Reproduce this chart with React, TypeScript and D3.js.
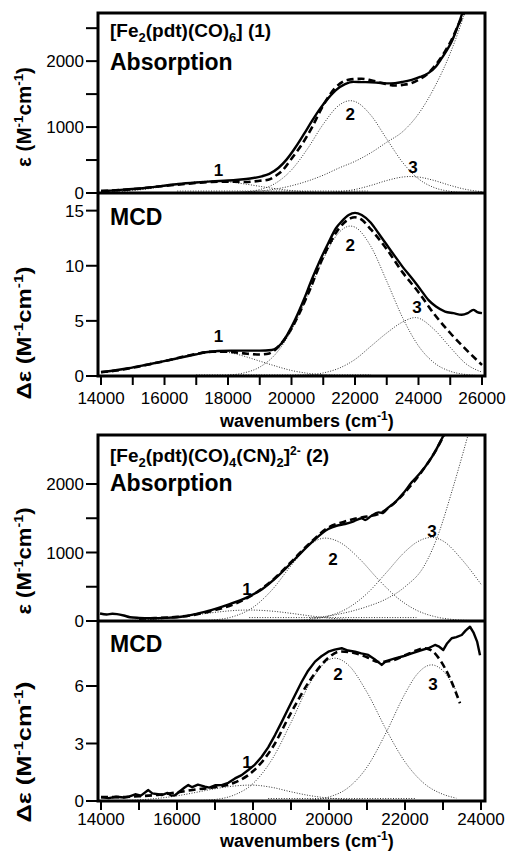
import React from 'react';
import * as d3 from 'd3';

type P = [number, number];

// ---------- Compound 1: [Fe2(pdt)(CO)6] ----------
const abs1Exp: P[] = [[14000,30],[14230,35],[14800,55],[15386,76],[15900,105],[16435,136],[17000,160],[17487,177],[18000,190],[18326,202],[18700,220],[19063,253],[19300,290],[19585,379],[19850,510],[20111,682],[20400,900],[20636,1086],[20900,1280],[21160,1439],[21400,1560],[21686,1651],[21950,1685],[22212,1682],[22500,1680],[22735,1672],[23000,1662],[23261,1667],[23500,1685],[23787,1717],[24050,1760],[24310,1818],[24550,1920],[24732,2045],[24900,2170],[25047,2298],[25200,2480],[25362,2702],[25500,2900]];
const abs1Fit: P[] = [[14000,30],[14230,35],[15000,58],[16000,108],[17000,152],[17487,168],[18000,172],[18536,167],[19000,185],[19270,202],[19500,260],[19690,328],[20000,520],[20322,732],[20650,1000],[20952,1288],[21371,1591],[21790,1717],[22212,1732],[22500,1710],[22842,1667],[23261,1631],[23500,1640],[23787,1667],[24050,1730],[24310,1818],[24600,1980],[24836,2147],[25050,2330],[25255,2550],[25570,2850]];
const abs1Band1: P[] = [[14000,8],[14500,18],[15000,37],[15500,65],[16000,101],[16500,139],[17000,169],[17500,180],[18000,169],[18500,139],[19000,101],[19500,65],[20000,37],[20500,18],[21000,8],[21500,3],[22000,1]];
const abs1Band2: P[] = [[17000,1],[18000,5],[18500,15],[19000,52],[19500,149],[20000,350],[20500,668],[21000,1044],[21500,1332],[21850,1400],[22000,1387],[22500,1179],[23000,819],[23500,464],[24000,215],[24500,81],[25000,25],[25500,6],[26000,2]];
const abs1Band3: P[] = [[20500,1],[21000,6],[21500,20],[22000,54],[22500,115],[23000,189],[23500,242],[23750,250],[24000,242],[24500,189],[25000,115],[25500,54],[26000,20]];
const abs1Band4: P[] = [[18000,10],[18500,15],[19000,30],[19500,60],[20000,110],[20500,180],[21000,270],[21500,380],[22000,480],[22500,610],[23000,770],[23500,930],[24000,1200],[24500,1600],[25000,2120],[25500,2800],[25800,3300]];
const abs1Flat: P[] = [[16400,30],[22400,30]];

const mcd1Exp: P[] = [[14000,0.35],[14300,0.45],[14860,0.7],[15400,1.0],[15912,1.3],[16400,1.6],[16961,1.95],[17300,2.15],[17695,2.27],[18100,2.3],[18536,2.3],[19000,2.3],[19376,2.36],[19690,2.97],[20111,5.09],[20400,7.0],[20636,8.73],[20900,10.5],[21160,12.06],[21400,13.4],[21581,14.03],[21800,14.6],[22001,14.8],[22212,14.6],[22500,13.9],[22735,12.97],[23000,11.9],[23261,10.85],[23500,9.9],[23787,8.88],[24050,7.9],[24310,6.91],[24550,6.3],[24836,5.85],[25100,5.7],[25362,5.55],[25550,5.7],[25728,6.0],[25850,5.8],[26000,5.7]];
const mcd1Fit: P[] = [[14000,0.35],[14500,0.5],[15000,0.75],[15500,1.05],[16000,1.35],[16500,1.7],[17000,2.0],[17500,2.2],[18000,2.2],[18500,2.05],[19000,1.95],[19300,2.05],[19600,2.7],[20000,4.3],[20500,7.3],[21000,10.8],[21500,13.4],[21850,14.3],[22000,14.4],[22200,14.2],[22500,13.3],[23000,11.5],[23500,9.4],[24000,7.6],[24500,5.6],[25000,3.9],[25500,2.4],[26000,1.0]];
const mcd1Band1: P[] = [[14000,0.35],[14500,0.5],[15000,0.75],[15500,1.05],[16000,1.35],[16500,1.7],[17000,2.0],[17650,2.2],[18000,2.14],[18500,1.8],[19000,1.35],[19500,0.9],[20000,0.5],[20500,0.25],[21000,0.1],[21500,0.04],[22000,0.02]];
const mcd1Band2: P[] = [[18000,0.08],[18500,0.28],[19000,0.81],[19500,2.0],[20000,4.15],[20500,7.22],[21000,10.6],[21500,13.03],[21850,13.6],[22000,13.5],[22500,11.75],[23000,8.6],[23500,5.29],[24000,2.73],[24500,1.18],[25000,0.43],[25500,0.13],[26000,0.03]];
const mcd1Band3: P[] = [[20000,0.04],[20500,0.1],[21000,0.28],[21500,0.71],[22000,1.5],[22500,2.7],[23000,3.9],[23500,4.9],[23900,5.3],[24500,4.2],[25000,2.6],[25500,1.1],[26000,0.35]];
const mcd1Flat: P[] = [[17000,0.1],[22500,0.1]];

// ---------- Compound 2: [Fe2(pdt)(CO)4(CN)2]2- ----------
const abs2Exp: P[] = [[13974,110],[14150,95],[14300,105],[14421,100],[14600,80],[14763,55],[15000,45],[15289,40],[15700,45],[16000,55],[16263,73],[16474,100],[16900,160],[17350,240],[17789,330],[18228,460],[18667,662],[19105,905],[19544,1148],[19982,1343],[20200,1390],[20421,1416],[20650,1455],[20860,1500],[20950,1475],[21100,1530],[21298,1586],[21400,1575],[21550,1650],[21737,1732],[21950,1860],[22176,2024],[22400,2160],[22614,2316],[22800,2480],[22965,2657],[23100,2800]];
const abs2Fit: P[] = [[15000,35],[15300,40],[16000,60],[16500,95],[17000,160],[17500,245],[18000,385],[18500,590],[19000,860],[19500,1140],[20000,1370],[20400,1450],[20700,1495],[21000,1525],[21300,1560],[21600,1665],[22000,1880],[22400,2150],[22800,2480],[23100,2790]];
const abs2Band1: P[] = [[14000,2],[14500,5],[15000,13],[15500,29],[16000,55],[16500,90],[17000,126],[17500,153],[17900,160],[18500,144],[19000,112],[19500,75],[20000,43],[20500,22],[21000,9],[21500,3.5],[22000,1]];
const abs2Band2: P[] = [[16500,4],[17000,18],[17500,68],[18000,199],[18500,454],[19000,807],[19500,1117],[19900,1210],[20300,1143],[20800,909],[21300,605],[21800,338],[22300,158],[22800,62],[23300,20],[23800,6]];
const abs2Band3: P[] = [[19000,6],[19500,24],[20000,74],[20500,190],[21000,401],[21500,701],[22000,1011],[22300,1147],[22700,1220],[23000,1168],[23500,895],[24000,537]];
const abs2Band4: P[] = [[19500,40],[20000,75],[20500,130],[21000,210],[21500,320],[22000,500],[22500,800],[22900,1300],[23200,1830],[23500,2400],[23700,2800]];
const abs2Flat: P[] = [[17900,50],[22300,50]];

const mcd2Exp: P[] = [[14000,0.2],[14200,0.15],[14400,0.22],[14600,0.18],[14718,0.22],[14900,0.35],[15050,0.28],[15245,0.57],[15350,0.4],[15500,0.35],[15597,0.31],[15750,0.42],[15850,0.28],[15947,0.3],[16100,0.55],[16200,0.7],[16297,0.83],[16400,0.72],[16550,0.85],[16737,0.75],[16850,0.7],[17000,0.82],[17176,0.83],[17350,0.95],[17526,1.18],[17700,1.35],[17876,1.62],[18050,1.9],[18229,2.31],[18400,2.8],[18579,3.44],[18750,4.1],[18929,4.83],[19100,5.5],[19282,6.22],[19450,6.8],[19632,7.27],[19800,7.55],[19982,7.79],[20150,7.9],[20334,7.97],[20500,7.85],[20684,7.79],[20850,7.7],[21034,7.62],[21200,7.4],[21387,7.1],[21500,7.3],[21737,7.44],[21950,7.55],[22176,7.7],[22400,7.85],[22613,7.97],[22789,8.14],[22900,8.05],[23008,7.88],[23100,8.2],[23229,8.49],[23350,8.55],[23492,8.66],[23600,8.9],[23710,9.09],[23800,8.8],[23900,8.3],[23974,7.6]];
const mcd2Fit: P[] = [[14000,0.2],[14500,0.2],[15000,0.25],[15500,0.32],[16000,0.45],[16500,0.6],[17000,0.72],[17500,0.95],[18000,1.55],[18500,2.75],[19000,4.6],[19500,6.3],[19800,7.1],[20000,7.5],[20300,7.8],[20600,7.75],[21000,7.5],[21300,7.25],[21600,7.3],[22000,7.6],[22300,7.85],[22482,7.97],[22700,7.85],[22921,7.36],[23184,6.4],[23447,5.1]];
const mcd2Band1: P[] = [[14000,0.01],[14500,0.02],[15000,0.06],[15500,0.14],[16000,0.27],[16500,0.45],[17000,0.64],[17500,0.78],[17950,0.83],[18500,0.71],[19000,0.48],[19500,0.28],[20000,0.15],[20500,0.07],[21000,0.02]];
const mcd2Band2: P[] = [[16500,0.02],[17000,0.08],[17500,0.31],[18000,0.91],[18500,2.17],[19000,4.09],[19500,6.15],[20000,7.37],[20150,7.45],[20500,7.11],[21000,5.67],[21500,3.74],[22000,2.04],[22500,0.92],[23000,0.35],[23350,0.15]];
const mcd2Band3: P[] = [[19500,0.05],[20000,0.21],[20500,0.69],[21000,1.77],[21500,3.56],[22000,5.6],[22300,6.57],[22700,7.1],[23000,6.79],[23350,5.75]];
const mcd2Flat: P[] = [[18400,0.13],[22300,0.13]];

// ---------- Axis ticks / labels ----------
const xTicks1 = [14000,15000,16000,17000,18000,19000,20000,21000,22000,23000,24000,25000,26000];
const xLabels1 = [14000,16000,18000,20000,22000,24000,26000];
const xTicks2 = [14000,15000,16000,17000,18000,19000,20000,21000,22000,23000,24000];
const xLabels2 = [14000,16000,18000,20000,22000,24000];
const absTicks1 = [0,500,1000,1500,2000,2500];
const absTicks2 = [0,500,1000,1500,2000];
const absLabels = [0,1000,2000];
const mcdTicks1 = [0,5,10,15];
const mcdTicks2 = [0,3,6];

// peak-label positions (wavenumber, value)
const absPeaks1: [string, number, number][] = [['1',17700,258],['2',21850,1106],['3',23830,303]];
const mcdPeaks1: [string, number, number][] = [['1',17700,3.1],['2',21850,11.3],['3',23950,5.7]];
const absPeaks2: [string, number, number][] = [['1',17842,380],['2',20105,818],['3',22710,1226]];
const mcdPeaks2: [string, number, number][] = [['1',17842,1.72],['2',20237,6.31],['3',22737,5.79]];

const FONT = '"Liberation Sans", Arial, Helvetica, sans-serif';

type PanelProps = {
  id: string;
  x: d3.ScaleLinear<number, number>;
  y: d3.ScaleLinear<number, number>;
  exp: P[];
  fit: P[];
  bands: P[][];
  ticks: number[];
  labels: number[];
  peaks: [string, number, number][];
  smoothExp?: boolean;
};

function Panel({ id, x, y, exp, fit, bands, ticks, labels, peaks, smoothExp = true }: PanelProps) {
  const [x0, x1] = x.range();
  const [y0, y1] = y.range();
  const mk = (curve: d3.CurveFactory) =>
    d3.line<P>().x(d => x(d[0])).y(d => y(d[1])).curve(curve);
  const smooth = mk(d3.curveMonotoneX);
  const lin = mk(d3.curveLinear);
  return (
    <g>
      <defs>
        <clipPath id={id}>
          <rect x={x0} y={y1} width={x1 - x0} height={y0 - y1} />
        </clipPath>
      </defs>
      <g clipPath={`url(#${id})`} fill="none">
        {bands.map((b, i) => (
          <path key={i} d={smooth(b) || ''} stroke="#333" strokeWidth={1} strokeDasharray="1 1.6" />
        ))}
        <path d={smooth(fit) || ''} stroke="#000" strokeWidth={2.6} strokeDasharray="7 4" />
        <path d={(smoothExp ? smooth : lin)(exp) || ''} stroke="#000" strokeWidth={2.4} strokeLinejoin="round" />
      </g>
      {ticks.map(t => (
        <line key={t} x1={x0 - 12} x2={x0} y1={y(t)} y2={y(t)} stroke="#000" strokeWidth={2} />
      ))}
      {labels.map(t => (
        <text key={t} x={x0 - 14} y={y(t)} dy="0.36em" textAnchor="end" fontSize={17} fontFamily={FONT}>{t}</text>
      ))}
      {peaks.map(([s, wn, v]) => (
        <text key={s} x={x(wn)} y={y(v)} textAnchor="middle" fontSize={17} fontWeight="bold" fontFamily={FONT}>{s}</text>
      ))}
    </g>
  );
}

function XAxis({ x, yPos, ticks, labels, labelY, titleY }: { x: d3.ScaleLinear<number, number>; yPos: number; ticks: number[]; labels: number[]; labelY: number; titleY: number }) {
  return (
    <g>
      {ticks.map(t => (
        <line key={t} x1={x(t)} x2={x(t)} y1={yPos} y2={yPos + 9} stroke="#000" strokeWidth={2} />
      ))}
      {labels.map(t => (
        <text key={t} x={x(t)} y={labelY} textAnchor="middle" fontSize={17} fontFamily={FONT}>{t}</text>
      ))}
      <text x={220} y={titleY} fontSize={18} fontWeight="bold" fontFamily={FONT}>
        wavenumbers (cm<tspan dy={-7} fontSize={12}>-1</tspan><tspan dy={7}>)</tspan>
      </text>
    </g>
  );
}

function YTitle({ cx, cy, len, delta }: { cx: number; cy: number; len: number; delta: boolean }) {
  return (
    <text transform={`translate(${cx},${cy}) rotate(-90)`} textAnchor="middle" fontSize={20} fontWeight="bold" fontFamily={FONT}
      textLength={len} lengthAdjust="spacingAndGlyphs">
      {delta ? 'Δε' : 'ε'} (M<tspan dy={-8} fontSize={13}>-1</tspan><tspan dy={8}>cm</tspan><tspan dy={-8} fontSize={13}>-1</tspan><tspan dy={8}>)</tspan>
    </text>
  );
}

export default function App() {
  const L = 98, R = 485;
  const xs1 = d3.scaleLinear().domain([13905, 26095]).range([L, R]);
  const ya1 = d3.scaleLinear().domain([0, 2730]).range([193, 13]);
  const ym1 = d3.scaleLinear().domain([0, 16.6]).range([376, 193]);
  const xs2 = d3.scaleLinear().domain([13921, 24105]).range([L, R]);
  const ya2 = d3.scaleLinear().domain([0, 2715]).range([621, 435]);
  const ym2 = d3.scaleLinear().domain([0, 9.39]).range([801, 621]);

  return (
    <svg width={511} height={857} style={{ position: 'absolute', left: 0, top: 0, background: '#fff' }}>
      <rect width={511} height={857} fill="#fff" />
      <Panel id="c1" x={xs1} y={ya1} exp={abs1Exp} fit={abs1Fit} bands={[abs1Band1, abs1Band2, abs1Band3, abs1Band4, abs1Flat]} ticks={absTicks1} labels={absLabels} peaks={absPeaks1} />
      <Panel id="c2" x={xs1} y={ym1} exp={mcd1Exp} fit={mcd1Fit} bands={[mcd1Band1, mcd1Band2, mcd1Band3, mcd1Flat]} ticks={mcdTicks1} labels={mcdTicks1} peaks={mcdPeaks1} />
      <Panel id="c3" x={xs2} y={ya2} exp={abs2Exp} fit={abs2Fit} bands={[abs2Band1, abs2Band2, abs2Band3, abs2Band4, abs2Flat]} ticks={absTicks2} labels={absLabels} peaks={absPeaks2} />
      <Panel id="c4" x={xs2} y={ym2} exp={mcd2Exp} fit={mcd2Fit} bands={[mcd2Band1, mcd2Band2, mcd2Band3, mcd2Flat]} ticks={mcdTicks2} labels={mcdTicks2} peaks={mcdPeaks2} smoothExp={false} />

      {/* frames */}
      <rect x={L} y={13} width={R - L} height={376 - 13} fill="none" stroke="#000" strokeWidth={3} />
      <line x1={L} x2={R} y1={193} y2={193} stroke="#000" strokeWidth={3} />
      <rect x={L} y={435} width={R - L} height={801 - 435} fill="none" stroke="#000" strokeWidth={3} />
      <line x1={L} x2={R} y1={621} y2={621} stroke="#000" strokeWidth={3} />

      <XAxis x={xs1} yPos={376} ticks={xTicks1} labels={xLabels1} labelY={404} titleY={427} />
      <XAxis x={xs2} yPos={801} ticks={xTicks2} labels={xLabels2} labelY={825} titleY={847} />

      <YTitle cx={31} cy={117} len={100} delta={false} />
      <YTitle cx={31} cy={333} len={133} delta={true} />
      <YTitle cx={31} cy={561} len={107} delta={false} />
      <YTitle cx={31} cy={752} len={141} delta={true} />

      {/* titles */}
      <text x={110} y={37} fontSize={19} fontWeight="bold" fontFamily={FONT}>
        [Fe<tspan dy={5} fontSize={13}>2</tspan><tspan dy={-5}>(pdt)(CO)</tspan><tspan dy={5} fontSize={13}>6</tspan><tspan dy={-5}>] (1)</tspan>
      </text>
      <text x={110} y={70} fontSize={23} fontWeight="bold" fontFamily={FONT}>Absorption</text>
      <text x={110} y={225} fontSize={23} fontWeight="bold" fontFamily={FONT}>MCD</text>

      <text x={110} y={462} fontSize={19} fontWeight="bold" fontFamily={FONT}>
        [Fe<tspan dy={5} fontSize={13}>2</tspan><tspan dy={-5}>(pdt)(CO)</tspan><tspan dy={5} fontSize={13}>4</tspan><tspan dy={-5}>(CN)</tspan><tspan dy={5} fontSize={13}>2</tspan><tspan dy={-5}>]</tspan><tspan dy={-7} fontSize={12}>2-</tspan><tspan dy={7}> (2)</tspan>
      </text>
      <text x={110} y={491} fontSize={23} fontWeight="bold" fontFamily={FONT}>Absorption</text>
      <text x={110} y={652} fontSize={23} fontWeight="bold" fontFamily={FONT}>MCD</text>
    </svg>
  );
}
